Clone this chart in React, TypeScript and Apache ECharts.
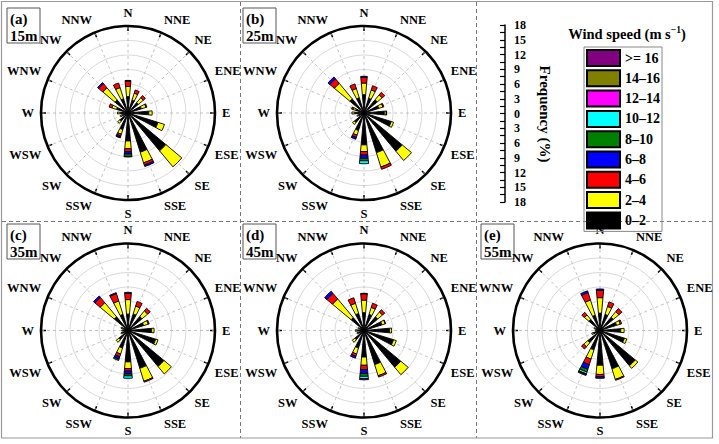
import React, { useEffect, useRef } from 'react';
import * as echarts from 'echarts';

// Compass sectors, clockwise from north
const directions = ['N', 'NNE', 'NE', 'ENE', 'E', 'ESE', 'SE', 'SSE', 'S', 'SSW', 'SW', 'WSW', 'W', 'WNW', 'NW', 'NNW'];

// Wind-speed classes (m/s), stacked from the centre outwards
const speedClasses = ['0–2', '2–4', '4–6', '6–8', '8–10', '10–12', '12–14', '14–16', '>= 16'];
const speedColors = ['#000000', '#ffff00', '#ff0000', '#0000ff', '#008000', '#00ffff', '#ff00ff', '#808000', '#800080'];

// Frequency (%) per direction; each row lists the speed classes in order (omitted = 0)
const freq15m = [
  [3.4, 2.1, 1.1, 0.15], [2.8, 1.5, 0.7], [2.8, 1.3, 0.6], [2.9, 1.0, 0.2],
  [4.3, 0.7], [6.5, 1.4], [10.2, 4.3], [8.5, 2.3, 0.5, 0.3],
  [5.8, 1.6, 0.6, 0.5, 0.5, 0.1], [3.6, 1.0, 0.4, 0.3, 0.1], [2.2, 0.6], [1.3, 0.4],
  [1.6, 0.6], [2.5, 1.0, 0.6], [3.5, 3.3, 1.1, 0.3], [3.1, 2.4, 1.0],
];
const freq25m = [
  [3.8, 2.4, 1.2, 0.2], [3.2, 1.8, 0.9], [3.6, 1.3, 0.7], [3.2, 0.9, 0.2],
  [4.2, 0.4, 0.1], [5.9, 0.5], [10.3, 2.5], [8.6, 3.1, 0.5],
  [6.6, 1.4, 0.7, 0.7, 0.5, 0.6], [3.8, 1.0, 0.5, 0.4], [2.6, 0.5], [1.2, 0.3],
  [1.9, 0.6], [1.8, 0.6, 0.3], [3.8, 4.2, 1.2, 0.5], [3.3, 2.0, 1.0],
];
const freq35m = [
  [3.4, 3.0, 1.3, 0.2], [3.6, 1.7, 1.0], [3.8, 1.5, 0.7], [3.4, 1.0, 0.2],
  [4.9, 0.5], [6.0, 0.5], [9.7, 2.0], [8.2, 2.8, 0.2],
  [6.5, 1.4, 0.5, 0.6, 0.4, 0.5], [3.8, 1.3, 0.6, 0.5, 0.3], [2.5, 0.7], [1.2, 0.3],
  [1.0, 0.3], [1.1, 0.4], [3.7, 3.8, 1.4, 0.4], [3.5, 2.9, 1.6, 0.2],
];
const freq45m = [
  [3.7, 2.6, 1.3, 0.1], [3.5, 1.5, 0.9], [3.7, 1.3, 0.6], [3.9, 0.7, 0.1],
  [5.3, 0.4], [6.4, 0.6], [9.9, 2.0], [7.4, 2.4, 0.3],
  [5.5, 1.7, 0.9, 0.8, 0.6, 0.5, 0.2], [3.8, 1.3, 0.5, 0.4], [2.5, 0.7], [1.2, 0.3],
  [1.4, 0.4], [1.0, 0.3], [3.5, 5.0, 1.5, 0.6], [3.7, 2.2, 1.2],
];
const freq55m = [
  [3.6, 3.2, 1.5, 0.3], [3.5, 1.7, 1.0], [3.6, 1.5, 0.8], [3.6, 0.8, 0.3],
  [4.3, 0.7], [5.3, 0.5], [9.5, 0.7], [8.3, 2.3, 0.2],
  [7.2, 1.9, 0.5, 0.3], [4.2, 2.0, 1.2, 1.0, 0.6, 0.4, 0.1, 0.05, 0.2], [3.3, 1.1, 0.6], [1.4, 0.4],
  [0.8, 0.2], [1.0, 0.3], [3.0, 1.2, 0.7], [3.3, 3.3, 1.6, 0.4],
];

const heights = ['15m', '25m', '35m', '45m', '55m'];
const panelTags = ['(a)', '(b)', '(c)', '(d)', '(e)'];
const roseData = [freq15m, freq25m, freq35m, freq45m, freq55m];

// Frequency scale (%) shared by every rose
const freqMax = 18;
const freqStep = 3;

const FONT = "'Liberation Serif', 'Times New Roman', serif";

// Rose centres and panel tag boxes (px)
const centers: [number, number][] = [[128, 113], [364, 113], [128, 330.5], [364, 330.5], [600, 330.5]];
const tagBoxes: [number, number][] = [[7, 8], [243, 8], [7, 224], [243, 224], [481, 224]];
const ROSE_R = 87;
const N = centers.length;

function buildOption() {
  // polars 0..4 carry the bars and direction labels; 5..9 draw the compass frame and grid
  const polar = [...centers, ...centers].map((c) => ({ center: c, radius: [0, ROSE_R] }));

  const angleAxis: any[] = [];
  const radiusAxis: any[] = [];
  centers.forEach((_, i) => {
    angleAxis.push({
      polarIndex: i,
      type: 'category',
      data: directions,
      boundaryGap: false,
      startAngle: 90,
      clockwise: true,
      axisLine: { show: false },
      axisTick: { show: false },
      axisLabel: {
        show: true, interval: 0, margin: 7, color: '#000',
        fontFamily: FONT, fontWeight: 'bold', fontSize: 12.5,
      },
      splitLine: { show: false },
    });
    radiusAxis.push({
      polarIndex: i,
      type: 'value', min: 0, max: freqMax,
      axisLine: { show: false }, axisTick: { show: false }, axisLabel: { show: false }, splitLine: { show: false },
    });
  });
  centers.forEach((_, i) => {
    angleAxis.push({
      polarIndex: N + i,
      type: 'value',
      min: 0,
      max: 360,
      interval: 22.5,
      startAngle: 90,
      clockwise: true,
      axisLine: { show: true, lineStyle: { color: '#000', width: 2.6 } },
      axisTick: { show: true, inside: true, length: 5, lineStyle: { color: '#000', width: 1.5 } },
      axisLabel: { show: false },
      splitLine: { show: true, lineStyle: { color: '#b5b5b5', width: 0.8, type: [3, 3] } },
    });
    radiusAxis.push({
      polarIndex: N + i,
      type: 'value',
      min: 0,
      max: freqMax,
      interval: freqStep,
      axisLine: { show: false },
      axisTick: { show: false },
      axisLabel: { show: false },
      splitLine: { show: true, lineStyle: { color: '#cfcfcf', width: 0.8 } },
    });
  });

  const series: any[] = [];
  roseData.forEach((rows, i) => {
    speedClasses.forEach((name, k) => {
      series.push({
        type: 'bar',
        name,
        coordinateSystem: 'polar',
        polarIndex: i,
        stack: 'rose' + i,
        barWidth: '46%',
        silent: true,
        itemStyle: { color: speedColors[k], borderColor: '#000', borderWidth: 0.9 },
        data: rows.map((r) => (r[k] ? r[k] : null)),
      });
    });
  });

  const graphic: any[] = [
    // figure frame and panel dividers
    { type: 'rect', shape: { x: 1.5, y: 1.5, width: 711, height: 436.5 }, style: { fill: 'none', stroke: '#999', lineWidth: 1.2 }, silent: true },
    { type: 'line', shape: { x1: 240.5, y1: 2, x2: 240.5, y2: 438 }, style: { stroke: '#777', lineWidth: 1, lineDash: [4, 3] }, silent: true },
    { type: 'line', shape: { x1: 476.5, y1: 2, x2: 476.5, y2: 438 }, style: { stroke: '#777', lineWidth: 1, lineDash: [4, 3] }, silent: true },
    { type: 'line', shape: { x1: 2, y1: 221.5, x2: 712, y2: 221.5 }, style: { stroke: '#777', lineWidth: 1, lineDash: [4, 3] }, silent: true },
    // scale title
    {
      type: 'text', x: 545, y: 114, rotation: -Math.PI / 2, silent: true,
      style: { text: 'Frequency (%)', fill: '#000', fontFamily: FONT, fontWeight: 'bold', fontSize: 15, align: 'center', verticalAlign: 'middle' },
    },
    // legend title
    {
      type: 'text', x: 627, y: 33, silent: true,
      style: {
        text: '{t|Wind speed (m s}{s|−1}{t|)}',
        align: 'center', verticalAlign: 'middle',
        rich: {
          t: { fontFamily: FONT, fontWeight: 'bold', fontSize: 14.5, fill: '#000', verticalAlign: 'bottom' },
          s: { fontFamily: FONT, fontWeight: 'bold', fontSize: 9.5, fill: '#000', verticalAlign: 'top', padding: [0, 0, 7, 0] },
        },
      },
    },
  ];

  tagBoxes.forEach(([x, y], i) => {
    graphic.push({
      type: 'group', x, y, silent: true,
      children: [
        { type: 'rect', shape: { x: 0, y: 0, width: 33, height: 35 }, style: { fill: '#fff', stroke: '#555', lineWidth: 1 } },
        {
          type: 'text', x: 3, y: 2,
          style: {
            text: panelTags[i] + '\n' + heights[i], fill: '#000',
            fontFamily: FONT, fontWeight: 'bold', fontSize: 15, lineHeight: 17, align: 'left', verticalAlign: 'top',
          },
        },
      ],
    });
  });

  return {
    animation: false,
    backgroundColor: '#fff',
    polar,
    angleAxis,
    radiusAxis,
    grid: { left: 505, top: 25, width: 10, height: 177, containLabel: false },
    xAxis: { type: 'value', show: false },
    yAxis: {
      type: 'value',
      min: -freqMax,
      max: freqMax,
      interval: freqStep / 2,
      position: 'left',
      axisLine: { show: true, onZero: false, lineStyle: { color: '#000', width: 1.5 } },
      axisTick: { show: true, length: 5, lineStyle: { color: '#000', width: 1.2 } },
      axisLabel: {
        inside: true, margin: 9, color: '#000', fontFamily: FONT, fontWeight: 'bold', fontSize: 12,
        formatter: (v: number) => (Math.abs(v) % freqStep === 0 ? String(Math.abs(v)) : ''),
      },
      splitLine: { show: false },
    },
    legend: {
      orient: 'vertical',
      left: 584,
      top: 47,
      data: [...speedClasses].reverse(),
      icon: 'rect',
      itemWidth: 33,
      itemHeight: 16,
      itemGap: 2.3,
      padding: 2,
      borderColor: '#888',
      borderWidth: 1,
      selectedMode: false,
      textStyle: { fontFamily: FONT, fontWeight: 'bold', fontSize: 14, color: '#000' },
    },
    graphic,
    series,
  };
}

export default function App() {
  const ref = useRef<HTMLDivElement>(null);
  useEffect(() => {
    if (!ref.current) return;
    const chart = echarts.init(ref.current, undefined, { renderer: 'svg' });
    chart.setOption(buildOption() as any);
    return () => chart.dispose();
  }, []);
  return (
    <div
      ref={ref}
      style={{ position: 'absolute', left: 0, top: 0, width: 719, height: 444, background: '#fff' }}
    />
  );
}
